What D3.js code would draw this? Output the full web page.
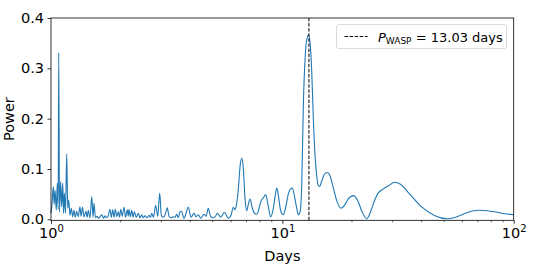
<!DOCTYPE html>
<html>
<head>
<meta charset="utf-8">
<script src="https://cdn.jsdelivr.net/npm/d3@7"></script>
<style>
  html, body { margin: 0; padding: 0; background: #fff; }
  svg text { font-family: "DejaVu Sans", sans-serif; fill: #000; }
</style>
</head>
<body>
<svg id="chart" width="538" height="276"></svg>
<script>
// ---- data ----
const periods = [
  1.000, 1.010, 1.023, 1.032, 1.041, 1.054, 1.065, 1.074, 1.080, 1.088,
  1.101, 1.112, 1.124, 1.133, 1.142, 1.155, 1.169, 1.181, 1.193, 1.208,
  1.224, 1.241, 1.257, 1.274, 1.291, 1.312, 1.334, 1.349, 1.368, 1.389,
  1.416, 1.434, 1.449, 1.474, 1.501, 1.519, 1.534, 1.557, 1.581, 1.605,
  1.629, 1.657, 1.687, 1.712, 1.738, 1.764, 1.799, 1.823, 1.848, 1.873,
  1.897, 1.925, 1.954, 1.978, 2.001, 2.033, 2.068, 2.101, 2.137, 2.157,
  2.174, 2.203, 2.234, 2.263, 2.292, 2.338, 2.385, 2.425, 2.467, 2.506,
  2.549, 2.600, 2.652, 2.692, 2.725, 2.774, 2.835, 2.892, 2.951, 2.998,
  3.058, 3.120, 3.182, 3.236, 3.301, 3.378, 3.435, 3.495, 3.551, 3.612,
  3.660, 3.758, 3.923, 4.030, 4.151, 4.234, 4.333, 4.438, 4.587, 4.679,
  4.786, 4.892, 5.030, 5.142, 5.236, 5.416, 5.615, 5.842, 6.001, 6.140,
  6.245, 6.339, 6.454, 6.564, 6.676, 6.784, 6.899, 7.017, 7.129, 7.252,
  7.419, 7.583, 7.751, 7.931, 8.114, 8.294, 8.477, 8.675, 8.910, 9.143,
  9.299, 9.458, 9.630, 9.822, 10.10, 10.32, 10.61, 10.83, 11.05, 11.29,
  11.54, 11.73, 11.93, 12.13, 12.33, 12.54, 12.73, 12.98, 13.18, 13.38,
  13.62, 13.85, 14.09, 14.27, 14.49, 14.78, 15.07, 15.37, 15.71, 16.08,
  16.62, 17.24, 17.94, 18.58, 19.24, 20.28, 21.14, 22.11, 23.17, 24.06,
  24.92, 25.93, 27.25, 28.64, 30.61, 32.28, 35.54, 39.90, 45.61, 51.54,
  57.52, 63.55, 70.15, 76.74, 82.84, 91.80, 100.0
];
const power = [
  0.012, 0.030, 0.065, 0.030, 0.058, 0.018, 0.072, 0.020, 0.331, 0.015,
  0.075, 0.025, 0.072, 0.012, 0.052, 0.012, 0.130, 0.022, 0.038, 0.008,
  0.022, 0.005, 0.018, 0.004, 0.016, 0.005, 0.025, 0.006, 0.024, 0.005,
  0.016, 0.004, 0.018, 0.003, 0.045, 0.004, 0.032, 0.003, 0.006, 0.002,
  0.005, 0.009, 0.002, 0.007, 0.003, 0.006, 0.020, 0.004, 0.019, 0.004,
  0.020, 0.005, 0.015, 0.004, 0.020, 0.006, 0.024, 0.004, 0.019, 0.006,
  0.020, 0.005, 0.018, 0.004, 0.015, 0.004, 0.012, 0.003, 0.009, 0.003,
  0.007, 0.003, 0.008, 0.004, 0.012, 0.004, 0.028, 0.006, 0.052, 0.008,
  0.004, 0.010, 0.023, 0.006, 0.003, 0.005, 0.004, 0.010, 0.003, 0.015,
  0.016, 0.002, 0.024, 0.004, 0.012, 0.005, 0.009, 0.002, 0.010, 0.006,
  0.022, 0.006, 0.003, 0.006, 0.012, 0.004, 0.014, 0.002, 0.008, 0.024,
  0.019, 0.030, 0.060, 0.105, 0.121, 0.100, 0.040, 0.017, 0.030, 0.040,
  0.022, 0.012, 0.010, 0.022, 0.038, 0.043, 0.049, 0.028, 0.005, 0.022,
  0.045, 0.062, 0.045, 0.018, 0.009, 0.022, 0.050, 0.060, 0.062, 0.045,
  0.022, 0.009, 0.015, 0.070, 0.230, 0.320, 0.355, 0.366, 0.350, 0.300,
  0.197, 0.125, 0.085, 0.068, 0.065, 0.075, 0.086, 0.092, 0.093, 0.086,
  0.062, 0.035, 0.022, 0.028, 0.040, 0.047, 0.038, 0.015, 0.001, 0.015,
  0.035, 0.052, 0.060, 0.066, 0.0735, 0.070, 0.050, 0.025, 0.007, 0.001,
  0.006, 0.014, 0.018, 0.017, 0.015, 0.011, 0.009
];
const xTicks = [1, 10, 100];
const xTickExps = ["0", "1", "2"];
const yTicks = [0.0, 0.1, 0.2, 0.3, 0.4];
const pWasp = 13.03;
const legendLabel = { sym: "P", sub: "WASP", rest: " = 13.03 days" };

// ---- layout ----
const svg = d3.select("#chart");
const W = 538, H = 276;
const m = { left: 51, right: 24.3, top: 18, bottom: 55.7 };
const x = d3.scaleLog().domain([1, 100]).range([m.left, W - m.right]);
const y = d3.scaleLinear().domain([-0.002, 0.4]).range([H - m.bottom, m.top]);

const g = svg.append("g");

// line
const pts = periods.map((p, i) => [p, power[i]]);
g.append("path")
  .datum(pts)
  .attr("fill", "none")
  .attr("stroke", "#1f77b4")
  .attr("stroke-width", 1.1)
  .attr("stroke-linejoin", "round")
  .attr("d", d3.line().x(d => x(d[0])).y(d => y(d[1])).curve(d3.curveMonotoneX));

// vertical dashed line
g.append("line")
  .attr("x1", x(pWasp)).attr("x2", x(pWasp))
  .attr("y1", y.range()[0]).attr("y2", y.range()[1])
  .attr("stroke", "#000").attr("stroke-width", 1)
  .attr("stroke-dasharray", "3.5,1.6");

// axes
const xAxis = d3.axisBottom(x).tickValues(xTicks).tickSize(3.5).tickFormat(() => "");
const xg = svg.append("g").attr("transform", `translate(0,${y.range()[0]})`).call(xAxis);
xg.select(".domain").remove();
xg.selectAll(".tick line").attr("stroke", "#000").attr("stroke-width", 0.8);
// minor ticks
const minor = [];
[1, 10].forEach(dec => { for (let k = 2; k <= 9; k++) minor.push(dec * k); });
xg.selectAll(".minor").data(minor).enter().append("line")
  .attr("x1", d => x(d)).attr("x2", d => x(d))
  .attr("y1", 0).attr("y2", 2)
  .attr("stroke", "#000").attr("stroke-width", 0.6);
// major tick labels with superscripts
xg.selectAll(".tick").each(function (d, i) {
  const t = d3.select(this).append("text")
    .attr("y", 17.5).attr("text-anchor", "middle")
    .attr("font-size", 14.5).attr("fill", "#000");
  t.append("tspan").text("10");
  t.append("tspan").attr("font-size", 10).attr("dy", -6).text(xTickExps[i]);
});

const yAxis = d3.axisLeft(y).tickValues(yTicks).tickSize(3.5).tickFormat(d3.format(".1f"));
const yg = svg.append("g").attr("transform", `translate(${m.left},0)`).call(yAxis);
yg.select(".domain").remove();
yg.selectAll(".tick line").attr("stroke", "#000").attr("stroke-width", 0.8);
yg.selectAll(".tick text").attr("font-size", 14.5).attr("x", -7)
  .attr("font-family", "DejaVu Sans").attr("fill", "#000");

// frame
svg.append("rect")
  .attr("x", m.left).attr("y", m.top)
  .attr("width", W - m.right - m.left).attr("height", H - m.bottom - m.top)
  .attr("fill", "none").attr("stroke", "#000").attr("stroke-width", 0.8);

// axis titles
svg.append("text").attr("x", (m.left + W - m.right) / 2).attr("y", 260.5)
  .attr("text-anchor", "middle").attr("font-size", 14.5).text("Days");
svg.append("text").attr("transform", `translate(13.5,${(m.top + H - m.bottom) / 2}) rotate(-90)`)
  .attr("text-anchor", "middle").attr("font-size", 14.5).text("Power");

// legend
const lg = svg.append("g");
lg.append("rect").attr("x", 336.5).attr("y", 24.5).attr("width", 170).attr("height", 24)
  .attr("rx", 2.5).attr("fill", "#fff").attr("fill-opacity", 0.8)
  .attr("stroke", "#d0d0d0").attr("stroke-width", 0.8);
lg.append("line").attr("x1", 344.5).attr("x2", 367.5).attr("y1", 36.5).attr("y2", 36.5)
  .attr("stroke", "#000").attr("stroke-width", 1).attr("stroke-dasharray", "3.5,1.6");
const lt = lg.append("text").attr("x", 378).attr("y", 41.5).attr("font-size", 13);
lt.append("tspan").attr("font-style", "italic").text(legendLabel.sym);
lt.append("tspan").attr("font-size", 9).attr("dy", 2.5).text(legendLabel.sub);
lt.append("tspan").attr("dy", -2.5).text(legendLabel.rest);
</script>
</body>
</html>
